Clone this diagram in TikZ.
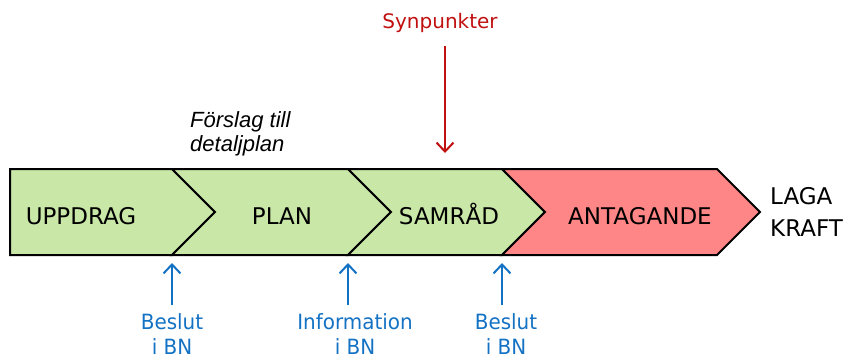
\documentclass[tikz,border=0pt]{standalone}
\usepackage{fontspec}
\setmainfont{DejaVu Sans}
\newfontfamily\arialfont{Liberation Sans}
\newfontfamily\narrowfont[FakeStretch=0.95]{DejaVu Sans}
\usetikzlibrary{arrows.meta}
\definecolor{stagegreen}{RGB}{201,231,167}
\definecolor{stagered}{RGB}{255,134,134}
\definecolor{bnblue}{RGB}{20,114,196}
\definecolor{remarkred}{RGB}{192,16,16}
\begin{document}
\begin{tikzpicture}[x=1pt,y=-1pt,
  stage/.style={draw=black, line width=2pt, line join=miter},
  stagetext/.style={font=\fontsize{23}{28}\selectfont, inner sep=0pt, anchor=base},
  bnlabel/.style={font=\narrowfont\fontsize{21}{25}\selectfont, text=bnblue, align=center, inner sep=0pt, anchor=north},
  bnarrow/.style={draw=bnblue, line width=2pt, -{Straight Barb[length=9pt,width=17pt,line width=2pt]}},
  remarkarrow/.style={draw=remarkred, line width=2pt, -{Straight Barb[length=9pt,width=17pt,line width=2pt]}}]
\useasboundingbox (0,0) rectangle (851,360);

% chevron boundaries (bottom corners) along the process bar
\coordinate (b1) at (172,255);
\coordinate (b2) at (348,255);
\coordinate (b3) at (502,255);

% process bar, one chevron per stage
\path[stage, fill=stagegreen] (10,169) -- (172,169) -- (215,212) -- (172,255) -- (10,255) -- cycle;
\path[stage, fill=stagegreen] (172,169) -- (348,169) -- (391,212) -- (348,255) -- (172,255) -- (215,212) -- cycle;
\path[stage, fill=stagegreen] (348,169) -- (502,169) -- (545,212) -- (502,255) -- (348,255) -- (391,212) -- cycle;
\path[stage, fill=stagered] (502,169) -- (717,169) -- (760,212) -- (717,255) -- (502,255) -- (545,212) -- cycle;

% stage names
\node[stagetext] (uppdrag) at (81,224) {UPPDRAG};
\node[stagetext] (plan) at (282,224) {PLAN};
\node[stagetext] (samrad) at (449,224) {SAMRÅD};
\node[stagetext] (antagande) at (640,224) {ANTAGANDE};
\node[font=\fontsize{23}{32}\selectfont, align=left, inner sep=0pt, anchor=north west] (laga) at (770,187) {LAGA\\KRAFT};

% proposal note above the plan stage
\node[font=\arialfont\itshape\fontsize{22}{24}\selectfont, align=left, inner sep=0pt, anchor=north west] (forslag) at (190,111) {Förslag till\\detaljplan};

% remarks arriving during consultation
\node[font=\fontsize{20}{24}\selectfont, text=remarkred, inner sep=0pt, anchor=base] (synp) at (440,28) {Synpunkter};
\coordinate (synpend) at (445,153);
\draw[remarkarrow] (synp.south -| synpend) ++(0,14) -- (synpend);

% decisions in the committee
\node[bnlabel] (bn1) at (172,313) {Beslut\\i BN};
\node[bnlabel] (bn2) at (355,313) {Information\\i BN};
\node[bnlabel] (bn3) at (506,313) {Beslut\\i BN};
\draw[bnarrow] (bn1.north -| b1) ++(0,-8) -- ([yshift=-8pt]b1);
\draw[bnarrow] (bn2.north -| b2) ++(0,-8) -- ([yshift=-8pt]b2);
\draw[bnarrow] (bn3.north -| b3) ++(0,-8) -- ([yshift=-8pt]b3);
\end{tikzpicture}
\end{document}
